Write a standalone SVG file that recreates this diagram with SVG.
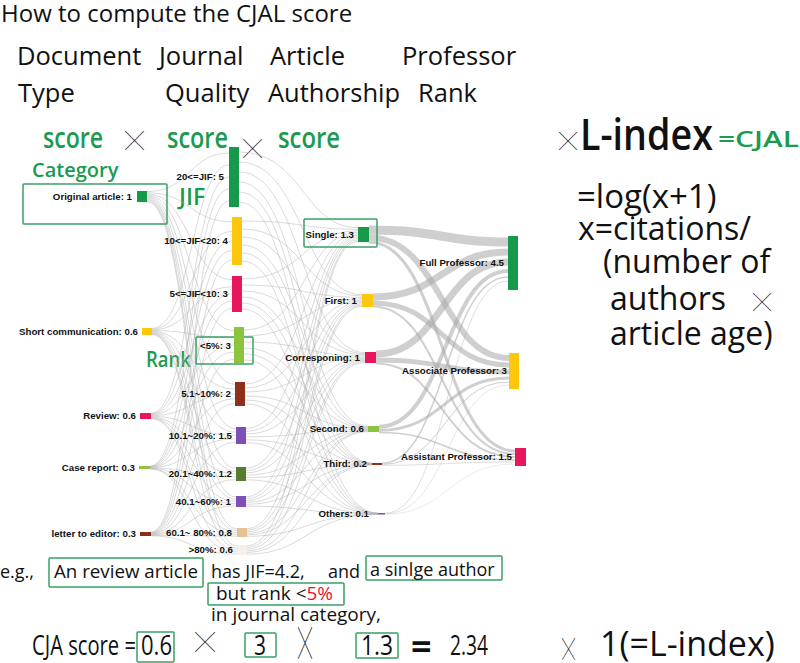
<svg xmlns="http://www.w3.org/2000/svg" width="800" height="663" viewBox="0 0 800 663">
<style>
.t{font-family:"Open Sans","Noto Sans",sans-serif;fill:#111}
.g{font-family:"Open Sans","Noto Sans",sans-serif;fill:#1a9b50;font-weight:600}
.lb{font-family:"Liberation Sans",Arial,sans-serif;font-weight:bold;font-size:9.7px;fill:#111;text-anchor:end}
.x{font-family:"Noto Sans CJK TC","Noto Sans CJK SC",sans-serif;fill:#222}
.box{fill:none;stroke:#3aa067;stroke-width:1.5}
.l1{fill:none;stroke:#b0b0b0;stroke-opacity:.6;stroke-width:.8}
.l2{fill:none;stroke:#a8a8a8;stroke-opacity:.55}
</style>
<rect width="800" height="663" fill="#fff"/>
<g id="headings">
<text class="t" x="1" y="22" font-size="24">How to compute the CJAL score</text>
<text class="t" x="17" y="65" font-size="25.5">Document</text>
<text class="t" x="159" y="65" font-size="25.5">Journal</text>
<text class="t" x="270" y="65" font-size="25.5">Article</text>
<text class="t" x="402" y="65" font-size="25.5">Professor</text>
<text class="t" x="18" y="102" font-size="25.5">Type</text>
<text class="t" x="165" y="102" font-size="25.5">Quality</text>
<text class="t" x="268" y="102" font-size="25.5">Authorship</text>
<text class="t" x="418" y="102" font-size="25.5">Rank</text>
<text class="g" x="43" y="148" font-size="28" textLength="60" lengthAdjust="spacingAndGlyphs">score</text>
<text class="x" x="125" y="148" font-size="19">╳</text>
<text class="g" x="167" y="148" font-size="28" textLength="61" lengthAdjust="spacingAndGlyphs">score</text>
<text class="x" x="243" y="156" font-size="19">╳</text>
<text class="g" x="278" y="148" font-size="28" textLength="62" lengthAdjust="spacingAndGlyphs">score</text>
<text class="x" x="559" y="148" font-size="18">╳</text>
<text class="t" x="580" y="150" font-size="43" font-weight="600" textLength="133" lengthAdjust="spacingAndGlyphs">L-index</text>
<text class="g" x="718" y="147" font-size="22" textLength="81" lengthAdjust="spacingAndGlyphs">=CJAL</text>
<text class="t" x="577" y="208" font-size="33">=log(x+1)</text>
<text class="t" x="578" y="240" font-size="32">x=citations/</text>
<text class="t" x="603" y="273" font-size="32">(number of</text>
<text class="t" x="610" y="310" font-size="32">authors</text>
<text class="x" x="753" y="309" font-size="18" fill="#777">╳</text>
<text class="t" x="610" y="345" font-size="32">article age)</text>
<text class="g" x="32" y="177" font-size="20">Category</text>
<text class="g" x="179" y="205" font-size="23" font-weight="normal">JIF</text>
<text class="g" x="146" y="367" font-size="21" font-weight="normal" textLength="45" lengthAdjust="spacingAndGlyphs">Rank</text>
</g>
<g id="connectors">
<path class="l1" d="M147 191.6C190 191.6 190 153 229 153"/>
<path class="l1" d="M147 192.7C190 192.7 190 221.8 232 221.8"/>
<path class="l1" d="M147 193.8C190 193.8 190 279.6 232 279.6"/>
<path class="l1" d="M147 194.9C190 194.9 190 330.6 234 330.6"/>
<path class="l1" d="M147 196C190 196 190 384.4 235 384.4"/>
<path class="l1" d="M147 197.1C190 197.1 190 428.7 236 428.7"/>
<path class="l1" d="M147 198.2C190 198.2 190 468.4 236 468.4"/>
<path class="l1" d="M147 199.3C190 199.3 190 497.1 236 497.1"/>
<path class="l1" d="M147 200.4C190 200.4 190 528.9 237 528.9"/>
<path class="l1" d="M147 201.5C190 201.5 190 546 237 546"/>
<path class="l1" d="M152 328.4C192 328.4 192 165 229 165"/>
<path class="l1" d="M152 329.1C192 329.1 192 231.4 232 231.4"/>
<path class="l1" d="M152 329.8C192 329.8 192 286.8 232 286.8"/>
<path class="l1" d="M152 330.5C192 330.5 192 337.8 234 337.8"/>
<path class="l1" d="M152 331.2C192 331.2 192 389.2 235 389.2"/>
<path class="l1" d="M152 331.9C192 331.9 192 432.1 236 432.1"/>
<path class="l1" d="M152 332.6C192 332.6 192 471.2 236 471.2"/>
<path class="l1" d="M152 333.3C192 333.3 192 499.3 236 499.3"/>
<path class="l1" d="M152 334C192 334 192 530.7 237 530.7"/>
<path class="l1" d="M152 334.7C192 334.7 192 548 237 548"/>
<path class="l1" d="M151 413.3C191 413.3 191 177 229 177"/>
<path class="l1" d="M151 413.9C191 413.9 191 241 232 241"/>
<path class="l1" d="M151 414.5C191 414.5 191 294 232 294"/>
<path class="l1" d="M151 415.1C191 415.1 191 345 234 345"/>
<path class="l1" d="M151 415.7C191 415.7 191 394 235 394"/>
<path class="l1" d="M151 416.3C191 416.3 191 435.5 236 435.5"/>
<path class="l1" d="M151 416.9C191 416.9 191 474 236 474"/>
<path class="l1" d="M151 417.5C191 417.5 191 501.5 236 501.5"/>
<path class="l1" d="M151 418.1C191 418.1 191 532.5 237 532.5"/>
<path class="l1" d="M151 418.7C191 418.7 191 550 237 550"/>
<path class="l1" d="M150 466.2C190 466.2 190 189 229 189"/>
<path class="l1" d="M150 466.5C190 466.5 190 250.6 232 250.6"/>
<path class="l1" d="M150 466.8C190 466.8 190 301.2 232 301.2"/>
<path class="l1" d="M150 467.1C190 467.1 190 352.2 234 352.2"/>
<path class="l1" d="M150 467.4C190 467.4 190 398.8 235 398.8"/>
<path class="l1" d="M150 467.7C190 467.7 190 438.9 236 438.9"/>
<path class="l1" d="M150 468C190 468 190 476.8 236 476.8"/>
<path class="l1" d="M150 468.3C190 468.3 190 503.7 236 503.7"/>
<path class="l1" d="M150 468.6C190 468.6 190 534.3 237 534.3"/>
<path class="l1" d="M150 468.9C190 468.9 190 552 237 552"/>
<path class="l1" d="M151 532.2C191 532.2 191 201 229 201"/>
<path class="l1" d="M151 532.6C191 532.6 191 260.2 232 260.2"/>
<path class="l1" d="M151 533C191 533 191 308.4 232 308.4"/>
<path class="l1" d="M151 533.4C191 533.4 191 359.4 234 359.4"/>
<path class="l1" d="M151 533.8C191 533.8 191 403.6 235 403.6"/>
<path class="l1" d="M151 534.2C191 534.2 191 442.3 236 442.3"/>
<path class="l1" d="M151 534.6C191 534.6 191 479.6 236 479.6"/>
<path class="l1" d="M151 535C191 535 191 505.9 236 505.9"/>
<path class="l1" d="M151 535.4C191 535.4 191 536.1 237 536.1"/>
<path class="l1" d="M151 535.8C191 535.8 191 554 237 554"/>
<path class="l1" stroke-width="2" d="M239 152C303 152 303 227.8 358 227.8"/>
<path class="l1" stroke-width="2" d="M239 162C303 162 303 294.7 362 294.7"/>
<path class="l1" stroke-width="2" d="M239 172C303 172 303 352.6 365 352.6"/>
<path class="l1" stroke-width="1.5" d="M239 182C303 182 303 426.3 368 426.3"/>
<path class="l1" d="M239 192C303 192 303 463.1 372 463.1"/>
<path class="l1" d="M239 202C303 202 303 513.1 378 513.1"/>
<path class="l1" stroke-width="1.6" d="M242 221C303 221 303 229.3 358 229.3"/>
<path class="l1" stroke-width="1.6" d="M242 229C303 229 303 296 362 296"/>
<path class="l1" stroke-width="1.6" d="M242 237C303 237 303 353.7 365 353.7"/>
<path class="l1" stroke-width="1.2" d="M242 245C303 245 303 426.9 368 426.9"/>
<path class="l1" d="M242 253C303 253 303 463.3 372 463.3"/>
<path class="l1" d="M242 261C303 261 303 513.2 378 513.2"/>
<path class="l1" stroke-width="1.3" d="M242 279C303 279 303 230.8 358 230.8"/>
<path class="l1" stroke-width="1.3" d="M242 285C303 285 303 297.3 362 297.3"/>
<path class="l1" stroke-width="1.3" d="M242 291C303 291 303 354.8 365 354.8"/>
<path class="l1" d="M242 297C303 297 303 427.5 368 427.5"/>
<path class="l1" d="M242 303C303 303 303 463.5 372 463.5"/>
<path class="l1" d="M242 309C303 309 303 513.4 378 513.4"/>
<path class="l1" stroke-width="1.3" d="M244 330C305 330 305 232.3 358 232.3"/>
<path class="l1" stroke-width="1.3" d="M244 336C305 336 305 298.6 362 298.6"/>
<path class="l1" stroke-width="1.3" d="M244 342C305 342 305 355.9 365 355.9"/>
<path class="l1" d="M244 348C305 348 305 428.1 368 428.1"/>
<path class="l1" d="M244 354C305 354 305 463.7 372 463.7"/>
<path class="l1" d="M244 360C305 360 305 513.5 378 513.5"/>
<path class="l1" d="M245 384C305 384 305 233.8 358 233.8"/>
<path class="l1" d="M245 388C305 388 305 299.9 362 299.9"/>
<path class="l1" d="M245 392C305 392 305 357 365 357"/>
<path class="l1" d="M245 396C305 396 305 428.7 368 428.7"/>
<path class="l1" d="M245 400C305 400 305 463.9 372 463.9"/>
<path class="l1" d="M245 404C305 404 305 513.7 378 513.7"/>
<path class="l1" d="M246 428.4C306 428.4 306 235.3 358 235.3"/>
<path class="l1" d="M246 431.3C306 431.3 306 301.2 362 301.2"/>
<path class="l1" d="M246 434.1C306 434.1 306 358.1 365 358.1"/>
<path class="l1" d="M246 436.9C306 436.9 306 429.3 368 429.3"/>
<path class="l1" d="M246 439.8C306 439.8 306 464.1 372 464.1"/>
<path class="l1" d="M246 442.6C306 442.6 306 513.8 378 513.8"/>
<path class="l1" d="M246 468.2C306 468.2 306 236.8 358 236.8"/>
<path class="l1" d="M246 470.5C306 470.5 306 302.5 362 302.5"/>
<path class="l1" d="M246 472.8C306 472.8 306 359.2 365 359.2"/>
<path class="l1" d="M246 475.2C306 475.2 306 429.9 368 429.9"/>
<path class="l1" d="M246 477.5C306 477.5 306 464.3 372 464.3"/>
<path class="l1" d="M246 479.8C306 479.8 306 514 378 514"/>
<path class="l1" d="M246 496.9C306 496.9 306 238.3 358 238.3"/>
<path class="l1" d="M246 498.8C306 498.8 306 303.8 362 303.8"/>
<path class="l1" d="M246 500.6C306 500.6 306 360.3 365 360.3"/>
<path class="l1" d="M246 502.4C306 502.4 306 430.5 368 430.5"/>
<path class="l1" d="M246 504.3C306 504.3 306 464.5 372 464.5"/>
<path class="l1" d="M246 506.1C306 506.1 306 514.1 378 514.1"/>
<path class="l1" d="M247 528.8C307 528.8 307 239.8 358 239.8"/>
<path class="l1" d="M247 530.3C307 530.3 307 305.1 362 305.1"/>
<path class="l1" d="M247 531.8C307 531.8 307 361.4 365 361.4"/>
<path class="l1" d="M247 533.3C307 533.3 307 431.1 368 431.1"/>
<path class="l1" d="M247 534.8C307 534.8 307 464.7 372 464.7"/>
<path class="l1" d="M247 536.3C307 536.3 307 514.3 378 514.3"/>
<path class="l1" d="M247 545.8C307 545.8 307 241.3 358 241.3"/>
<path class="l1" d="M247 547.5C307 547.5 307 306.4 362 306.4"/>
<path class="l1" d="M247 549.2C307 549.2 307 362.5 365 362.5"/>
<path class="l1" d="M247 550.8C307 550.8 307 431.7 368 431.7"/>
<path class="l1" d="M247 552.5C307 552.5 307 464.9 372 464.9"/>
<path class="l1" d="M247 554.2C307 554.2 307 514.4 378 514.4"/>
<path class="l2" stroke-width="9" d="M369 230C442 230 442 242 508 242"/>
<path class="l2" stroke-width="6" d="M369 237.5C442 237.5 442 358 509 358"/>
<path class="l2" stroke-width="3" d="M369 242C442 242 442 451 515 451"/>
<path class="l2" stroke-width="7" d="M373 297C442 297 442 252 508 252"/>
<path class="l2" stroke-width="5" d="M373 303C442 303 442 365 509 365"/>
<path class="l2" stroke-width="2" d="M373 306.5C442 306.5 442 454 515 454"/>
<path class="l2" stroke-width="7" d="M376 354C442 354 442 262 508 262"/>
<path class="l2" stroke-width="5" d="M376 360C442 360 442 372 509 372"/>
<path class="l2" stroke-width="2" d="M376 363.5C442 363.5 442 457 515 457"/>
<path class="l2" stroke-width="4" d="M379 426.8C445 426.8 445 271 508 271"/>
<path class="l2" stroke-width="3" d="M379 430.3C445 430.3 445 378 509 378"/>
<path class="l2" stroke-width="1.5" d="M379 432.5C445 432.5 445 460 515 460"/>
<path class="l2" stroke-width="1.5" d="M382 463.2C445 463.2 445 277 508 277"/>
<path class="l2" stroke-width="1" d="M382 464.4C445 464.4 445 382 509 382"/>
<path class="l2" stroke-width=".7" d="M382 465.3C445 465.3 445 462 515 462"/>
<path class="l2" stroke-width=".7" d="M385 513.3C448 513.3 448 281 508 281"/>
<path class="l2" stroke-width=".5" d="M385 513.9C448 513.9 448 385 509 385"/>
<path class="l2" stroke-width=".4" d="M385 514.3C448 514.3 448 464 515 464"/>
</g>
<g id="n-original"><rect class="box" x="23" y="184" width="144" height="40" rx="1"/><rect x="137" y="191" width="10" height="11" fill="#15994a"/><text class="lb" x="132" y="200">Original article: 1</text></g>
<g id="n-short"><rect x="142" y="328" width="10" height="7" fill="#fdc80c"/><text class="lb" x="138" y="334.8">Short communication: 0.6</text></g>
<g id="n-review"><rect x="140" y="413" width="11" height="6" fill="#e8175d"/><text class="lb" x="136" y="419.3">Review: 0.6</text></g>
<g id="n-case"><rect x="139" y="466" width="11" height="3" fill="#8cc43f"/><text class="lb" x="135" y="470.8">Case report: 0.3</text></g>
<g id="n-letter"><rect x="140" y="532" width="11" height="4" fill="#8e2f1c"/><text class="lb" x="136" y="537.3">letter to editor: 0.3</text></g>
<g id="n-jif20"><rect x="229" y="147" width="10" height="60" fill="#15994a"/><text class="lb" x="224" y="180.3">20&lt;=JIF: 5</text></g>
<g id="n-jif10"><rect x="232" y="217" width="10" height="48" fill="#fdc80c"/><text class="lb" x="228" y="244.3">10&lt;=JIF&lt;20: 4</text></g>
<g id="n-jif5"><rect x="232" y="276" width="10" height="36" fill="#e8175d"/><text class="lb" x="228" y="297.3">5&lt;=JIF&lt;10: 3</text></g>
<g id="n-r5"><rect class="box" x="196" y="337" width="57" height="27" rx="1"/><rect x="234" y="327" width="10" height="36" fill="#8cc43f"/><text class="lb" x="231" y="349">&lt;5%: 3</text></g>
<g id="n-r10"><rect x="235" y="382" width="10" height="24" fill="#8e2f1c"/><text class="lb" x="231" y="397.3">5.1~10%: 2</text></g>
<g id="n-r20"><rect x="236" y="427" width="10" height="17" fill="#7e4fb8"/><text class="lb" x="232" y="438.8">10.1~20%: 1.5</text></g>
<g id="n-r40"><rect x="236" y="467" width="10" height="14" fill="#567d2f"/><text class="lb" x="232" y="477.3">20.1~40%: 1.2</text></g>
<g id="n-r60"><rect x="236" y="496" width="10" height="11" fill="#7e4fb8"/><text class="lb" x="231" y="504.8">40.1~60%: 1</text></g>
<g id="n-r80"><rect x="237" y="528" width="10" height="9" fill="#e4c293"/><text class="lb" x="232" y="535.8">60.1~ 80%: 0.8</text></g>
<g id="n-r100"><rect x="237" y="545" width="10" height="10" fill="#f7f0ea"/><text class="lb" x="233" y="552.8" font-size="8">&gt;80%: 0.6</text></g>
<g id="n-single"><rect class="box" x="304" y="219" width="73" height="28" rx="1"/><rect x="358" y="227" width="11" height="15" fill="#15994a"/><text class="lb" x="354" y="237.8">Single: 1.3</text></g>
<g id="n-first"><rect x="362" y="294" width="11" height="13" fill="#fdc80c"/><text class="lb" x="357" y="303.8">First: 1</text></g>
<g id="n-corr"><rect x="365" y="352" width="11" height="11" fill="#e8175d"/><text class="lb" x="360" y="360.8">Corresponing: 1</text></g>
<g id="n-second"><rect x="368" y="426" width="11" height="6" fill="#8cc43f"/><text class="lb" x="364" y="432.3">Second: 0.6</text></g>
<g id="n-third"><rect x="372" y="463" width="10" height="2" fill="#8e2f1c"/><text class="lb" x="367" y="467.3">Third: 0.2</text></g>
<g id="n-others"><rect x="378" y="513" width="7" height="1.5" fill="#7e4fb8"/><text class="lb" x="369" y="517">Others: 0.1</text></g>
<g id="n-full"><rect x="508" y="236" width="10" height="54" fill="#15994a"/><text class="lb" x="504" y="266.3">Full Professor: 4.5</text></g>
<g id="n-assoc"><rect x="509" y="353" width="10" height="36" fill="#fdc80c"/><text class="lb" x="507" y="374.3">Associate Professor: 3</text></g>
<g id="n-assist"><rect x="515" y="448" width="11" height="18" fill="#e8175d"/><text class="lb" x="512" y="460.3">Assistant Professor: 1.5</text></g>
<g id="example">
<text class="t" x="0" y="578" font-size="18">e.g.,</text>
<rect class="box" x="49" y="558" width="154" height="29" rx="1"/>
<text class="t" x="54" y="578" font-size="18" textLength="144" lengthAdjust="spacingAndGlyphs">An review article</text>
<text class="t" x="211" y="578" font-size="18">has JIF=4.2,</text>
<text class="t" x="328" y="578" font-size="18">and</text>
<rect class="box" x="366" y="556" width="136" height="24" rx="1"/>
<text class="t" x="370" y="576" font-size="18">a sinlge author</text>
<rect class="box" x="208" y="583" width="136" height="22" rx="1"/>
<text class="t" x="216" y="600" font-size="18" textLength="117" lengthAdjust="spacingAndGlyphs">but rank &lt;<tspan fill="#e8102a">5%</tspan></text>
<text class="t" x="211" y="621" font-size="18" textLength="170" lengthAdjust="spacingAndGlyphs">in journal category,</text>
<text class="t" x="32" y="655" font-size="27" textLength="104" lengthAdjust="spacingAndGlyphs">CJA score =</text>
<rect class="box" x="137" y="632" width="37" height="30" rx="1"/>
<text class="t" x="141" y="655" font-size="27" textLength="31" lengthAdjust="spacingAndGlyphs">0.6</text>
<text class="x" x="195" y="650" font-size="20">╳</text>
<rect class="box" x="245" y="633" width="31" height="24" rx="1"/>
<text class="t" x="254" y="655" font-size="27" textLength="12" lengthAdjust="spacingAndGlyphs">3</text>
<text class="x" font-size="20" transform="translate(298 655) scale(.7 1.6)">╳</text>
<rect class="box" x="356" y="633" width="42" height="25" rx="1"/>
<text class="t" x="361" y="655" font-size="27" textLength="32" lengthAdjust="spacingAndGlyphs">1.3</text>
<text class="t" x="411" y="659" font-size="36" font-weight="bold">=</text>
<text class="t" x="450" y="655" font-size="27" textLength="38" lengthAdjust="spacingAndGlyphs">2.34</text>
<text class="x" font-size="20" fill="#777" transform="translate(562 657) scale(.65 1.1)">╳</text>
<text class="t" x="600" y="656" font-size="34">1(=L-index)</text>
</g>
</svg>
